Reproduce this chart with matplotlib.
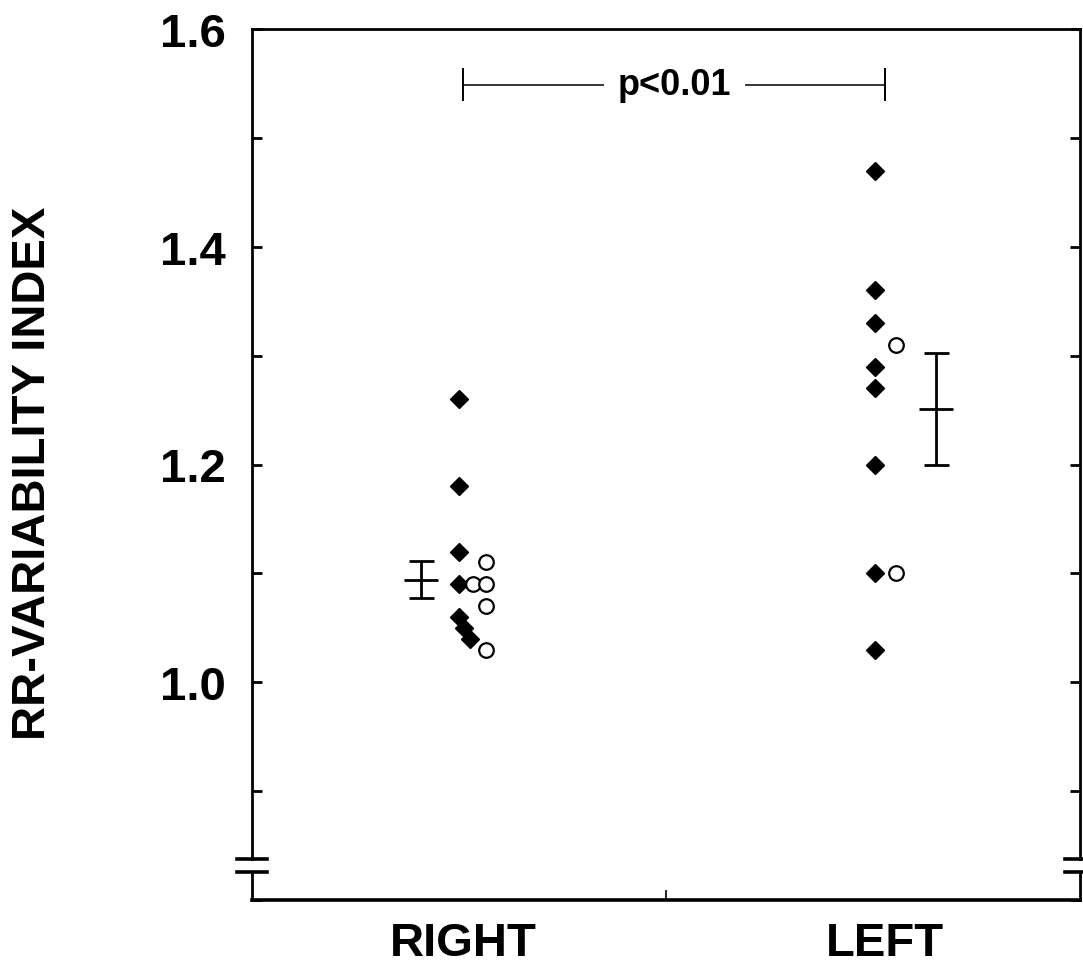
import matplotlib
matplotlib.use("Agg")
import matplotlib.pyplot as plt
from matplotlib.ticker import MultipleLocator
from matplotlib import font_manager


def has_font(name):
    try:
        font_manager.findfont(font_manager.FontProperties(family=name),
                              fallback_to_default=False)
        return True
    except Exception:
        return False


NARROW = has_font('Liberation Sans Narrow')
if NARROW:
    plt.rcParams['font.family'] = ['Liberation Sans Narrow', 'DejaVu Sans']
    BIG = 42
else:
    plt.rcParams['font.family'] = ['Liberation Sans', 'DejaVu Sans']
    BIG = 34

# ---- data ----
categories = ["RIGHT", "LEFT"]
category_pos = [0.51, 1.53]

right_filled = [1.26, 1.18, 1.12, 1.09, 1.06, 1.05, 1.04]
right_filled_dx = [0.0, 0.0, 0.0, 0.0, 0.0, 0.012, 0.027]
right_open = [1.11, 1.09, 1.09, 1.07, 1.03]
right_open_dx = [0.0, -0.03, 0.0, 0.0, 0.0]

left_filled = [1.47, 1.36, 1.33, 1.29, 1.27, 1.20, 1.10, 1.03]
left_open = [1.31, 1.10]

mean_vals = [1.094, 1.251]
sem_vals = [0.017, 0.051]
mean_pos = [0.408, 1.652]

filled_x = [0.50, 1.505]
open_x = [0.565, 1.556]

sig_text = "p<0.01"
sig_y = 1.549
sig_x = [0.51, 1.53]

ylabel = "RR-VARIABILITY INDEX"
yticks = [1.0, 1.2, 1.4, 1.6]

# ---- figure ----
W, H = 1083, 970
fig = plt.figure(figsize=(W / 100, H / 100), dpi=100)
ax = fig.add_axes([252 / W, (H - 901) / H, (1080 - 252) / W, (901 - 30) / H])
ax.set_xlim(0, 2)
ax.set_ylim(0.8, 1.6)

# filled diamonds
ax.plot([filled_x[0] + d for d in right_filled_dx], right_filled, 'D', color='black',
        markersize=8.8, linestyle='none', clip_on=False)
ax.plot([filled_x[1]] * len(left_filled), left_filled, 'D', color='black',
        markersize=8.8, linestyle='none', clip_on=False)
# open circles
ax.plot([open_x[0] + d for d in right_open_dx], right_open, 'o', markerfacecolor='white',
        markeredgecolor='black', markeredgewidth=1.6, markersize=10.5, linestyle='none')
ax.plot([open_x[1]] * len(left_open), left_open, 'o', markerfacecolor='white',
        markeredgecolor='black', markeredgewidth=1.6, markersize=10.5, linestyle='none')

# mean +/- SEM
ax.errorbar(mean_pos, mean_vals, yerr=sem_vals, fmt='_', color='black', markersize=24,
            markeredgewidth=2.0, elinewidth=2.0, capsize=9, capthick=2.0)

# significance bar
ax.plot(sig_x, [sig_y, sig_y], color='black', lw=1.1)
for xx in sig_x:
    ax.plot([xx, xx], [sig_y - 0.014, sig_y + 0.014], color='black', lw=1.4)
ax.text(sum(sig_x) / 2, sig_y, sig_text, ha='center', va='center', fontsize=26,
        fontweight='bold', family=['Liberation Sans', 'DejaVu Sans'],
        bbox=dict(facecolor='white', edgecolor='none', pad=10))

# spines
for s in ['left', 'right']:
    ax.spines[s].set_visible(False)
ax.spines['top'].set_linewidth(2.0)
ax.spines['bottom'].set_linewidth(2.6)

brk_hi, brk_lo = 0.838, 0.826
ytr = ax.get_yaxis_transform()
for xa in [0, 1]:
    ax.plot([xa, xa], [brk_hi, 1.6], color='black', lw=2.0, transform=ytr, clip_on=False,
            solid_capstyle='projecting')
    ax.plot([xa, xa], [0.8, brk_lo], color='black', lw=2.0, transform=ytr, clip_on=False,
            solid_capstyle='projecting')
    for yb in [brk_hi, brk_lo]:
        ax.plot([xa - 0.018, xa + 0.018], [yb, yb], color='black', lw=2.6, transform=ytr,
                clip_on=False)

# ticks
ax.set_yticks(yticks)
ax.set_yticklabels([f"{v:.1f}" for v in yticks])
ax.yaxis.set_minor_locator(MultipleLocator(0.1))
ax.tick_params(axis='y', which='both', direction='in', length=7, width=2.0,
               right=True, left=True, labelsize=BIG, pad=19)
for lab in ax.get_yticklabels():
    lab.set_fontweight('bold')

ax.set_xticks(category_pos)
ax.set_xticklabels(categories, fontsize=BIG, fontweight='bold')
ax.tick_params(axis='x', which='major', length=0, pad=15)
ax.set_xticks([1.0], minor=True)
ax.tick_params(axis='x', which='minor', direction='in', length=7, width=1.2)

fig.text(33 / W, 1 - 473 / H, ylabel, rotation=90, ha='center', va='center',
         fontsize=BIG, fontweight='bold')

fig.savefig("out.png", dpi=100)
